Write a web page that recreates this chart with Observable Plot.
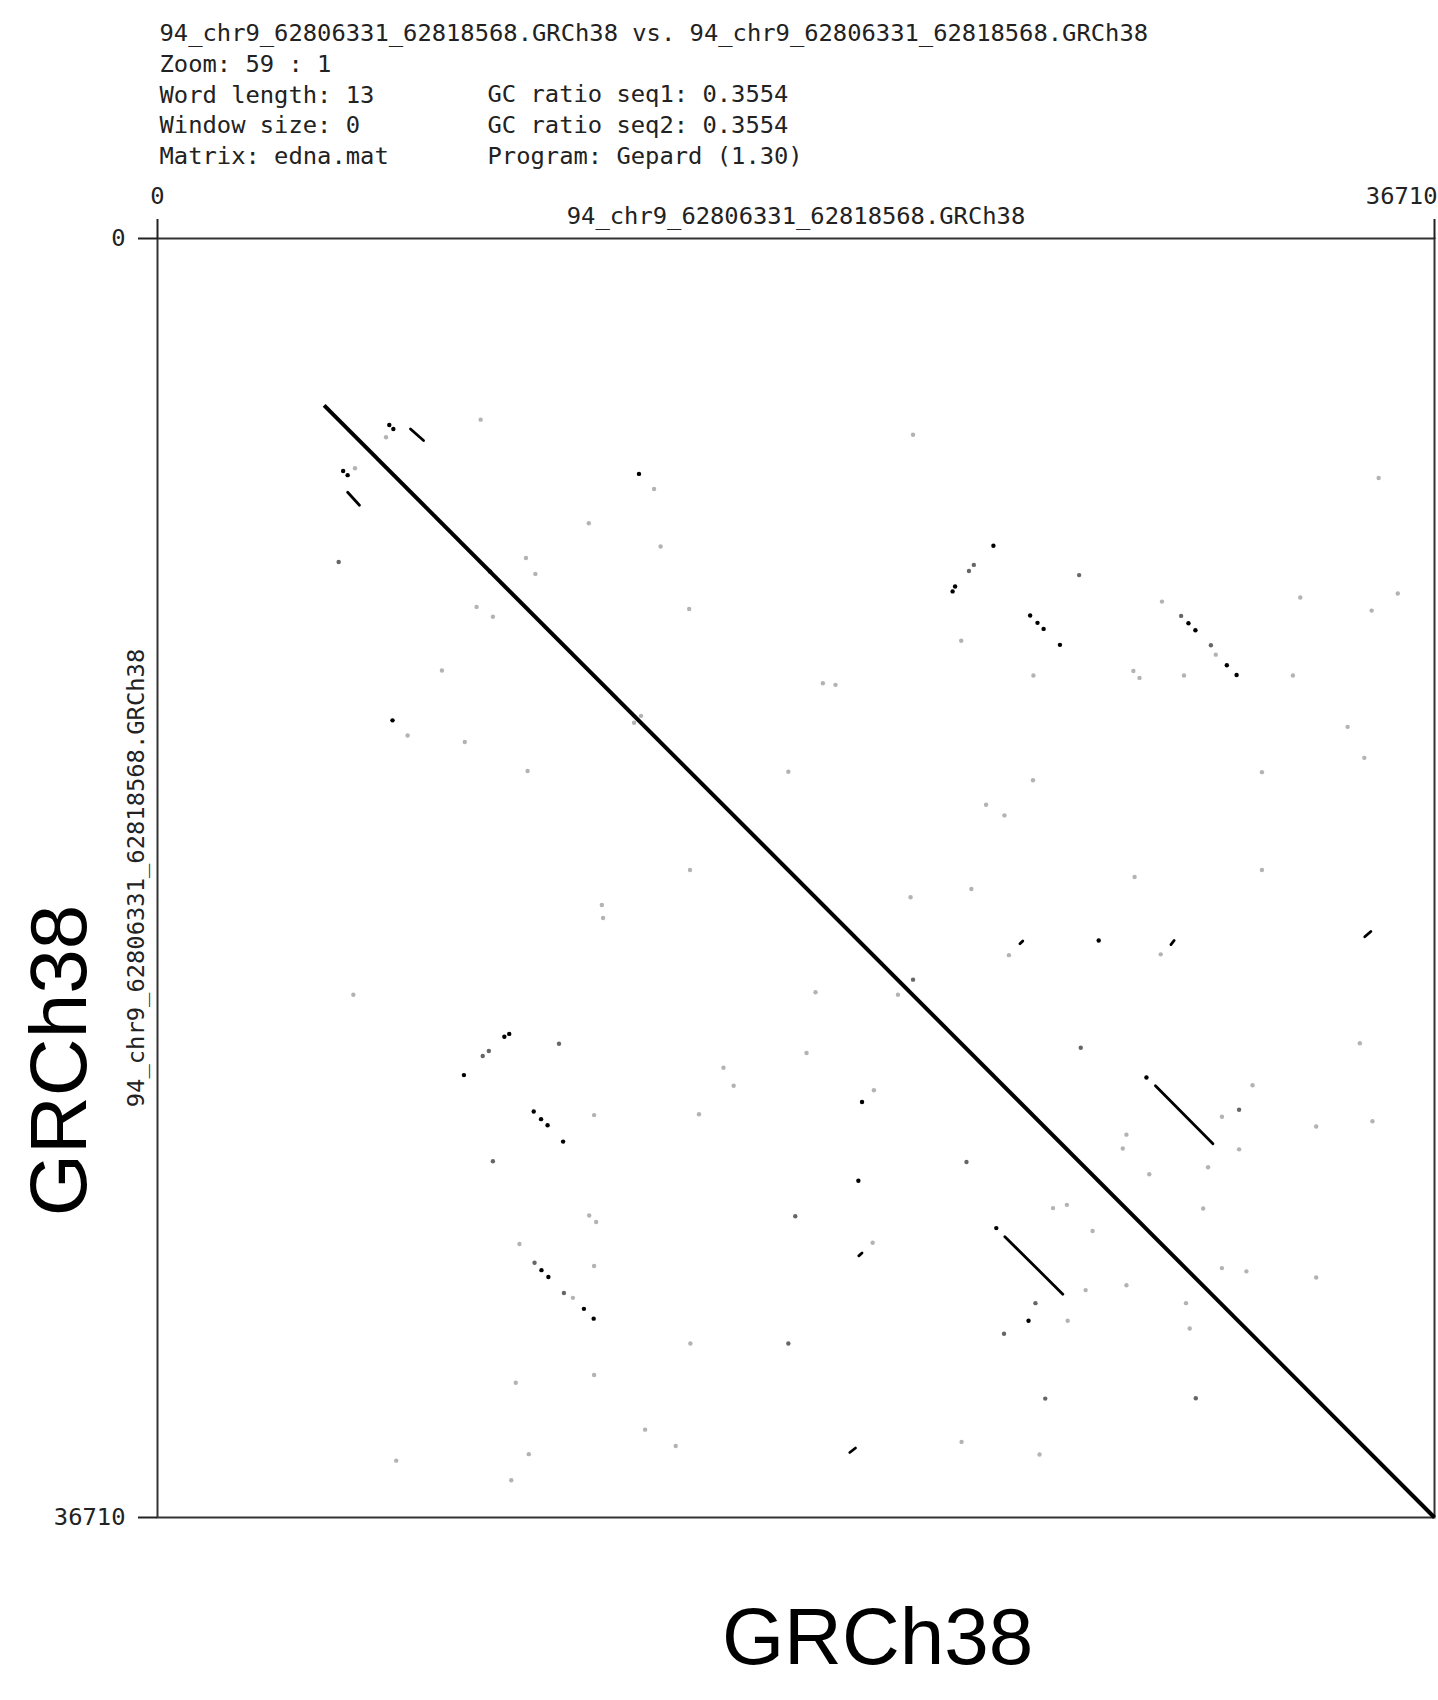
<!DOCTYPE html>
<html><head><meta charset="utf-8">
<script src="https://cdn.jsdelivr.net/npm/d3@7"></script>
<script src="https://cdn.jsdelivr.net/npm/@observablehq/plot@0.6"></script>
<style>
html,body{margin:0;padding:0;background:#fff;overflow:hidden;}
#chart svg{display:block;}
</style>
</head><body><div id="chart"></div>
<script>
// ---- data ----
const seqName = "94_chr9_62806331_62818568.GRCh38";
const seqLength = 36710;
const headerLeft = [seqName + " vs. " + seqName, "Zoom: 59 : 1", "Word length: 13", "Window size: 0", "Matrix: edna.mat"];
const headerRight = ["GC ratio seq1: 0.3554", "GC ratio seq2: 0.3554", "Program: Gepard (1.30)"];
const axisTicks = [0, 36710];
const bigLabel = "GRCh38";

// main self-match diagonal
const diagStart = 4790;
const diagEnd = 36710;

// repeat segments (x1,y1) -> (x2,y2)
const segX1 = [28687, 24359, 7273, 5466, 34705, 19901, 24793, 29133, 20160];
const segY1 = [24317, 28649, 5469, 7284, 20043, 34844, 20242, 20265, 29200];
const segX2 = [30341, 26025, 7648, 5806, 34881, 20066, 24875, 29227, 20253];
const segY2 = [25980, 30300, 5797, 7658, 19890, 34715, 20160, 20148, 29118];

// individual word hits: position on seq1 (x), seq2 (y), strength (0..1)
const hitX = [
 6663, 6780, 6569, 9290, 5337, 5466, 5677, 5208, 13841, 14275, 12399, 14463, 10592, 10862, 9173, 9642,
 8176, 15284, 6756, 7190, 8833, 10639, 18135, 15308, 13900, 13700, 9560,
 21720, 35104, 22857, 22928, 23327, 23467, 24030, 26494, 28875, 25086, 25297, 25473, 25942, 23104,
 29426, 29637, 29837, 30282, 30423, 30740, 31021, 32851, 34904, 35655, 19127, 19491, 25180, 28054,
 28230, 29508, 32640, 34212, 34693, 31749, 25168, 23819, 24347, 31749, 28089,
 12774, 12809, 5630, 10111, 9971, 9525, 9349, 8809, 11542, 16270, 16563, 12551, 15566, 10815, 11026,
 11214, 11660, 9642, 12410, 12610, 10405, 12551, 10839, 11038, 11237, 11683, 11941, 12258, 12539,
 15319, 18135, 12551, 10299, 14017, 14897, 10674, 6862, 10170, 18334,
 21649, 23397, 24476, 27057, 28840, 21720, 21286, 18916, 18658, 26541, 34564, 20253, 20594, 28429,
 31479, 31092, 30599, 33309, 34927, 27854, 27749, 31092, 30200, 28511, 23256, 20148, 26142, 25743,
 30060, 26881, 24113, 20558, 30599, 31303, 33309, 27854, 26681, 25239, 29567, 25039, 26165, 24335,
 29673, 25520, 29848, 23115, 25356
];
const hitY = [
 5352, 5469, 5703, 5199, 6675, 6792, 6593, 9286, 6757, 7190, 8174, 8841, 9169, 9626, 10574, 10855,
 12401, 10633, 13830, 14263, 14450, 15282, 15305, 18127, 13701, 13900, 9560,
 5633, 6874, 10129, 9989, 9544, 9368, 8818, 9661, 10422, 10820, 11031, 11206, 11663, 11546,
 10832, 11043, 11242, 11675, 11944, 12249, 12530, 10305, 10680, 10188, 12764, 12811, 12541, 12413,
 12612, 12541, 12541, 14017, 14907, 15317, 15551, 16253, 16558, 18127, 18326,
 19129, 19504, 21705, 22829, 22911, 23321, 23462, 24012, 23111, 23801, 24317, 25160, 25137, 25055, 25277,
 25453, 25921, 26483, 28040, 28228, 28860, 29492, 29399, 29610, 29809, 30265, 30406, 30722, 31003,
 31717, 31717, 32619, 32842, 34188, 34656, 34891, 35078, 35640, 28064,
 18907, 18672, 20569, 20148, 20546, 21272, 21705, 21635, 23380, 23228, 23099, 24785, 24446, 24082,
 24305, 25008, 25207, 25488, 25335, 25722, 26120, 26143, 26659, 26858, 26506, 27045, 27736, 27830,
 27841, 28485, 28404, 28825, 29551, 29645, 29820, 30043, 30183, 30558, 30558, 31062, 31062, 31436,
 31284, 33298, 33287, 34540, 34903
];
const hitS = [
 1, 1, .3, .3, 1, 1, .3, .6, 1, .3, .3, .3, .3, .3, .3, .3,
 .3, .3, 1, .3, .3, .3, .3, .3, .3, .3, 1,
 .3, .3, 1, 1, .6, .6, 1, .6, .3, 1, 1, 1, 1, .3,
 .6, 1, 1, .6, .3, 1, 1, .3, .3, .3, .3, .3, .3, .3,
 .3, .3, .3, .3, .3, .3, .3, .3, .3, .3, .3,
 .3, .3, .3, 1, 1, .6, .6, 1, .6, .3, .3, .3, .3, 1, 1,
 1, 1, .6, .3, .3, .3, .3, .6, 1, 1, .6, .3, 1, 1,
 .3, .6, .3, .3, .3, .3, .3, .3, .3, .6,
 .3, .3, .3, 1, .3, .6, .3, .3, .3, .6, .3, 1, .3, 1,
 .3, .6, .3, .3, .3, .3, .3, .3, .3, .3, .6, 1, .3, .3,
 .3, .3, 1, .3, .3, .3, .3, .3, .3, .6, .3, 1, .3, .6,
 .3, .6, .6, .3, .3
];

// ---- tables built from arrays ----
const hits = hitX.map((x, i) => ({x, y: hitY[i], s: hitS[i]}));
const segments = segX1.map((x1, i) => ({x1, y1: segY1[i], x2: segX2[i], y2: segY2[i]}));
const diagonal = [{x1: diagStart, y1: diagStart, x2: diagEnd, y2: diagEnd}];

const mono = "'DejaVu Sans Mono', monospace";
const sans = "'Liberation Sans', Arial, sans-serif";

const chart = Plot.plot({
  width: 1438, height: 1700,
  marginTop: 238, marginLeft: 157, marginRight: 4, marginBottom: 183,
  style: {background: "#fff", color: "#222", fontFamily: mono, fontSize: "23.8px"},
  x: {domain: [0, seqLength], axis: null},
  y: {domain: [0, seqLength], reverse: true, axis: null},
  color: {type: "linear", domain: [0, 1], range: ["#ffffff", "#000000"]},
  marks: [
    Plot.frame({stroke: "#333", strokeWidth: 2}),
    Plot.link(diagonal, {x1: "x1", y1: "y1", x2: "x2", y2: "y2", stroke: "#000", strokeWidth: 4}),
    Plot.link(segments, {x1: "x1", y1: "y1", x2: "x2", y2: "y2", stroke: "#000", strokeWidth: 2.8, strokeLinecap: "round"}),
    Plot.dot(hits, {x: "x", y: "y", r: 2.2, fill: "s"}),
    Plot.axisX(axisTicks, {anchor: "top", tickSize: 20, tickFormat: () => "", stroke: "#222", strokeWidth: 2, label: null}),
    Plot.text([axisTicks[0]], {x: d => d, text: d => String(d), frameAnchor: "top", dy: -42, lineAnchor: "middle", textAnchor: "middle", fill: "#222"}),
    Plot.text([axisTicks[1]], {x: d => d, text: d => String(d), frameAnchor: "top", dy: -42, dx: 3, lineAnchor: "middle", textAnchor: "end", fill: "#222"}),
    Plot.axisY(axisTicks, {anchor: "left", tickSize: 19, tickPadding: 13, tickFormat: d => String(d), stroke: "#222", strokeWidth: 2, label: null, fill: "#222"}),
    Plot.text([seqName], {frameAnchor: "top", dy: -22, lineAnchor: "middle", textAnchor: "middle", fill: "#222"}),
    Plot.text([seqName], {frameAnchor: "left", dx: -21, rotate: -90, lineAnchor: "middle", textAnchor: "middle", fill: "#222"}),
    Plot.text([headerLeft.join("\n")], {frameAnchor: "top-left", dx: 2, dy: -219, lineAnchor: "top", lineHeight: 1.29, textAnchor: "start", fill: "#222"}),
    Plot.text([headerRight.join("\n")], {frameAnchor: "top-left", dx: 330, dy: -158, lineAnchor: "top", lineHeight: 1.29, textAnchor: "start", fill: "#222"}),
    Plot.text([bigLabel], {frameAnchor: "bottom", dx: 81.5, dy: 146, lineAnchor: "bottom", textAnchor: "middle", fontFamily: sans, fontSize: 80, fill: "#000"}),
    Plot.text([bigLabel], {frameAnchor: "left", dx: -72, dy: 182.5, rotate: -90, lineAnchor: "bottom", textAnchor: "middle", fontFamily: sans, fontSize: 80, fill: "#000"})
  ]
});
document.getElementById("chart").appendChild(chart);
</script>
</body></html>
